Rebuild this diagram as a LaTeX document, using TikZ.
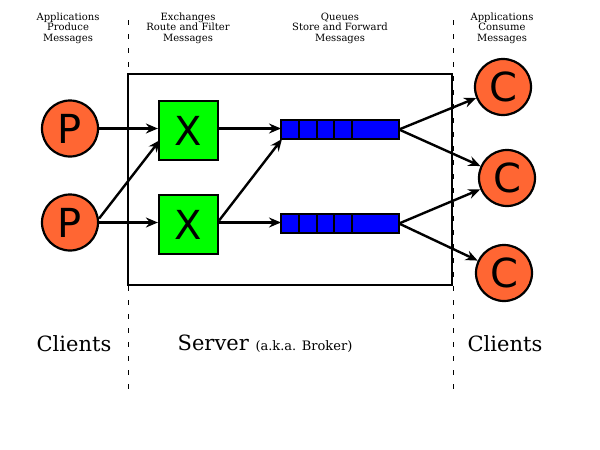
\documentclass[tikz,border=0pt]{standalone}
\usepackage{fontspec}
\setmainfont{DejaVu Serif}
\newfontfamily\letterfont{DejaVu Sans}
\usetikzlibrary{arrows.meta}
\definecolor{orangec}{HTML}{FF6633}
\definecolor{greenx}{HTML}{00FF00}
\definecolor{blueq}{HTML}{0000FF}
\begin{document}
\begin{tikzpicture}[x=1pt,y=-1pt,
  client/.style={circle,draw=black,line width=2.2pt,fill=orangec,minimum size=56pt,inner sep=0pt,font=\letterfont\fontsize{40}{40}\selectfont},
  exch/.style={rectangle,draw=black,line width=2.2pt,fill=greenx,minimum size=59pt,inner sep=0pt,font=\letterfont\fontsize{40}{40}\selectfont},
  cell/.style={rectangle,draw=black,line width=1.8pt,fill=blueq,minimum height=19pt,inner sep=0pt},
  conn/.style={line width=2.4pt,-{Stealth[length=12pt,width=10pt,inset=4pt]}},
  toplbl/.style={align=center,font=\fontsize{10}{10.5}\selectfont},
  botlbl/.style={font=\fontsize{21}{24}\selectfont},
  divider/.style={line width=1pt,dash pattern=on 5pt off 9pt}
]
\useasboundingbox (0,0) rectangle (600,450);
% dividers
\draw[divider] (128,20) -- (128,392);
\draw[divider] (453,20) -- (453,392);
% server box
\node[draw=black,line width=2.2pt,minimum width=324pt,minimum height=211pt,inner sep=0pt] (server) at (290,179.5) {};
% labels
\node[toplbl] (l1) at (68,28) {Applications\\Produce\\Messages};
\node[toplbl] (l2) at (188,28) {Exchanges\\Route and Filter\\Messages};
\node[toplbl] (l3) at (340,28) {Queues\\Store and Forward\\Messages};
\node[toplbl] (l4) at (502,28) {Applications\\Consume\\Messages};
\node[botlbl] (b1) at (74,344) {Clients};
\node[botlbl] (b2) at (265,344) {Server {\fontsize{13}{15}\selectfont (a.k.a. Broker)}};
\node[botlbl] (b3) at (505,344) {Clients};
% producers
\node[client] (p1) at (70,128.5) {P};
\node[client] (p2) at (70,222.5) {P};
% exchanges
\node[exch] (x1) at (188.5,130.5) {X};
\node[exch] (x2) at (188.5,224.5) {X};
% queues
\foreach \q/\y in {1/129.5,2/223.5}{
  \node[cell,minimum width=18pt] (q\q a) at (290,\y) {};
  \node[cell,minimum width=18pt] (q\q b) at (308,\y) {};
  \node[cell,minimum width=17pt] (q\q c) at (325.5,\y) {};
  \node[cell,minimum width=18pt] (q\q d) at (343,\y) {};
  \node[cell,minimum width=47pt] (q\q e) at (375.5,\y) {};
}
\coordinate (q1in) at (281,128.5);
\coordinate (q1low) at (282,139);
\coordinate (q2in) at (281,222.5);
\coordinate (q1out) at (399,129.5);
\coordinate (q2out) at (399,223.5);
% consumers
\node[client] (c1) at (503,87) {C};
\node[client] (c2) at (507,178) {C};
\node[client] (c3) at (504,273) {C};
% connectors
\draw[conn] (p1) -- (x1.west |- p1);
\draw[conn] (p2) -- (x2.west |- p2);
\draw[conn] (p2.east) ++(0,-4) -- (160,140);
\draw[conn] (x1.east |- q1in) -- (q1in);
\draw[conn] (x2.east) ++(0,-4) -- (q1low);
\draw[conn] (x2.east |- q2in) -- (q2in);
\draw[conn] (q1out) -- (c1);
\draw[conn] (q1out) -- (c2);
\draw[conn] (q2out) -- (c2);
\draw[conn] (q2out) -- (c3);
\end{tikzpicture}
\end{document}
